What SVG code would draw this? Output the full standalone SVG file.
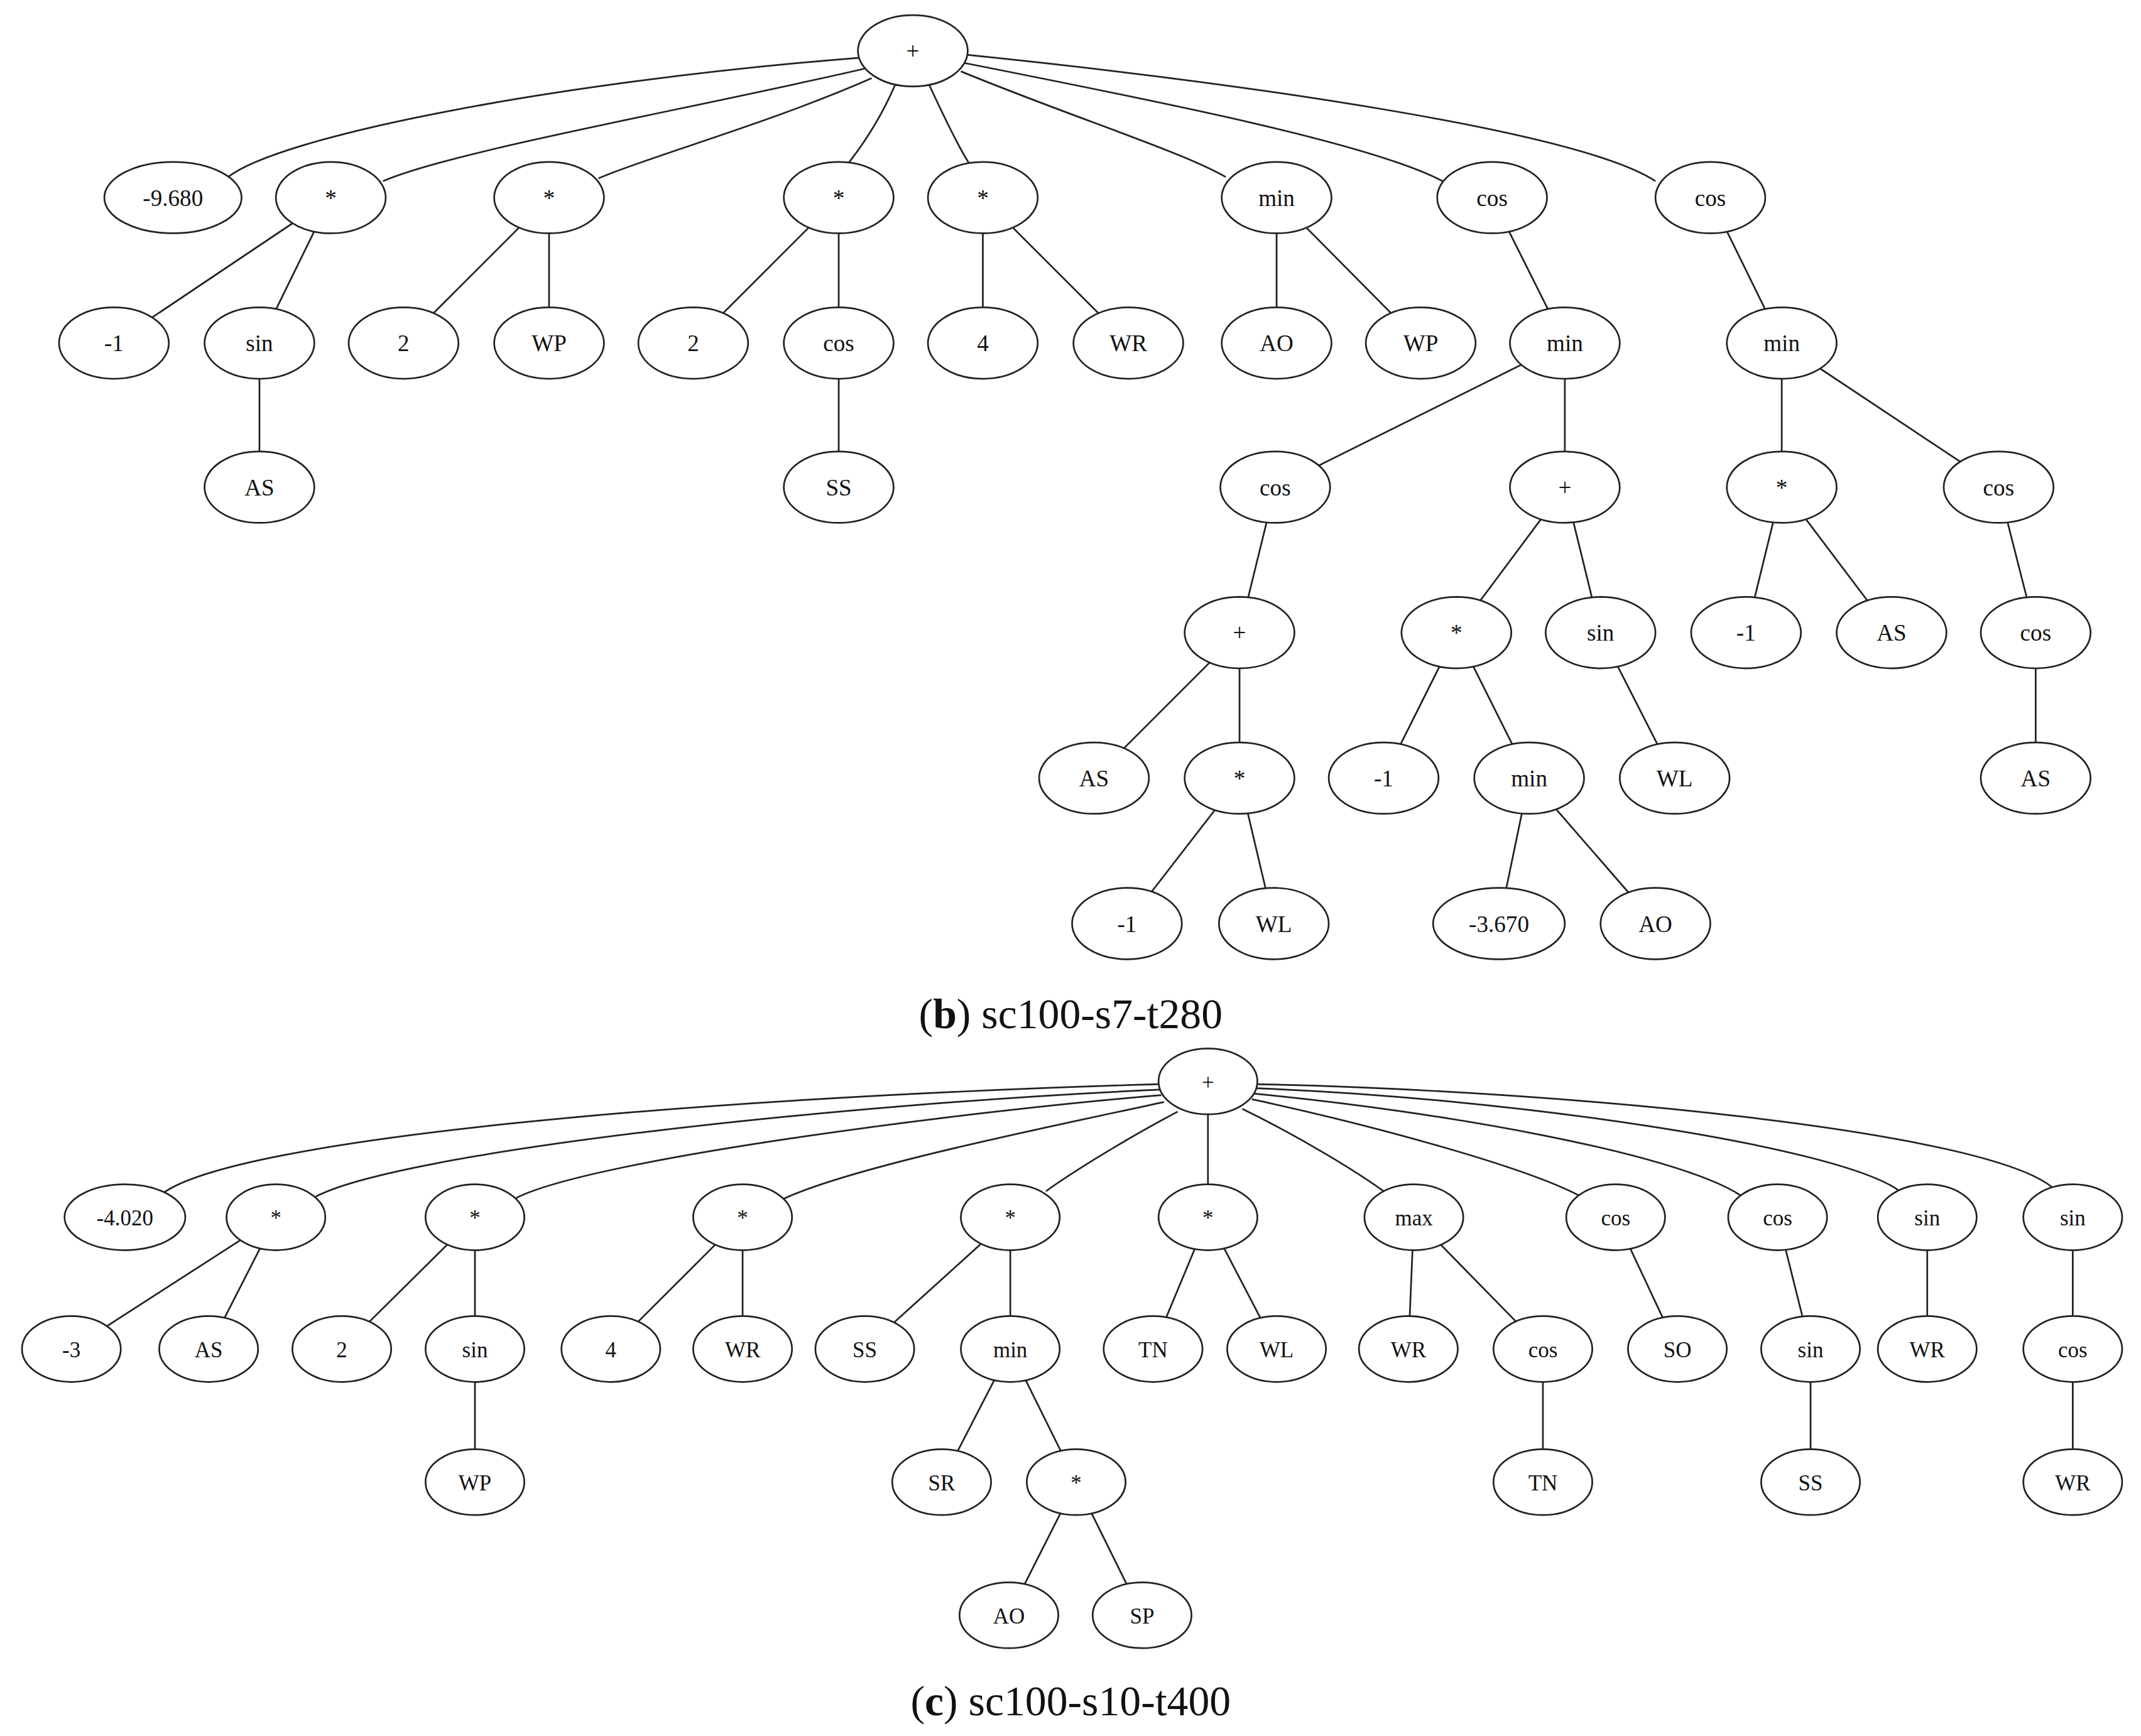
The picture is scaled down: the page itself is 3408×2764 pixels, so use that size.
<svg xmlns="http://www.w3.org/2000/svg" width="3408" height="2764" viewBox="0 0 3408 2764">
<style>
ellipse{fill:#fff;stroke:#222;stroke-width:1.25}
.e path,.e line{fill:none;stroke:#222;stroke-width:1.25}
text{font-family:"Liberation Serif","Times New Roman",serif;font-size:17px;text-anchor:middle;fill:#111}
.c text{font-size:16px}
.cap{font-size:31px;text-anchor:middle}
</style>
<rect width="3408" height="2764" fill="#fff"/>
<g transform="scale(2.185)">
<g class="e" id="connectors">
<!-- tree b root edges -->
<path d="M627,42 C400,60 200,100 165,130"/>
<path d="M630,50 C500,80 330,110 279,132"/>
<path d="M635,57 C560,90 470,115 436,130"/>
<path d="M652,62 C640,90 625,110 618,119"/>
<path d="M677,62 C690,90 700,110 706,119"/>
<path d="M700,52 C780,85 860,110 893,129"/>
<path d="M703,46 C850,75 1000,105 1051,132"/>
<path d="M705,40 C900,60 1150,95 1206,132"/>
<line x1="241" y1="144" x2="83" y2="250"/><line x1="241" y1="144" x2="189" y2="250"/>
<line x1="189" y1="250" x2="189" y2="355"/>
<line x1="400" y1="144" x2="294" y2="250"/><line x1="400" y1="144" x2="400" y2="250"/>
<line x1="611" y1="144" x2="505" y2="250"/><line x1="611" y1="144" x2="611" y2="250"/>
<line x1="611" y1="250" x2="611" y2="355"/>
<line x1="716" y1="144" x2="716" y2="250"/><line x1="716" y1="144" x2="822" y2="250"/>
<line x1="930" y1="144" x2="930" y2="250"/><line x1="930" y1="144" x2="1035" y2="250"/>
<line x1="1087" y1="144" x2="1140" y2="250"/>
<line x1="1246" y1="144" x2="1298" y2="250"/>
<line x1="1140" y1="250" x2="929" y2="355"/><line x1="1140" y1="250" x2="1140" y2="355"/>
<line x1="1298" y1="250" x2="1298" y2="355"/><line x1="1298" y1="250" x2="1456" y2="355"/>
<line x1="929" y1="355" x2="903" y2="461"/>
<line x1="1140" y1="355" x2="1061" y2="461"/><line x1="1140" y1="355" x2="1166" y2="461"/>
<line x1="1298" y1="355" x2="1272" y2="461"/><line x1="1298" y1="355" x2="1378" y2="461"/>
<line x1="1456" y1="355" x2="1483" y2="461"/>
<line x1="903" y1="461" x2="797" y2="567"/><line x1="903" y1="461" x2="903" y2="567"/>
<line x1="1061" y1="461" x2="1008" y2="567"/><line x1="1061" y1="461" x2="1114" y2="567"/>
<line x1="1166" y1="461" x2="1220" y2="567"/>
<line x1="1483" y1="461" x2="1483" y2="567"/>
<line x1="903" y1="567" x2="821" y2="673"/><line x1="903" y1="567" x2="928" y2="673"/>
<line x1="1114" y1="567" x2="1092" y2="673"/><line x1="1114" y1="567" x2="1206" y2="673"/>
<!-- tree c root edges -->
<path d="M845,790 C500,800 170,830 118,870"/>
<path d="M845,794 C600,805 290,840 230,872"/>
<path d="M846,798 C700,810 430,845 376,873"/>
<path d="M848,803 C770,820 620,850 570,874"/>
<path d="M858,810 C820,830 780,855 762,868"/>
<line x1="880" y1="788" x2="880" y2="887"/>
<path d="M905,808 C950,830 990,855 1008,868"/>
<path d="M912,801 C1000,820 1110,850 1150,871"/>
<path d="M914,797 C1050,810 1220,840 1268,871"/>
<path d="M915,793 C1100,800 1340,835 1384,868"/>
<path d="M915,790 C1150,795 1450,825 1496,866"/>
<line x1="201" y1="887" x2="52" y2="983"/><line x1="201" y1="887" x2="152" y2="983"/>
<line x1="346" y1="887" x2="249" y2="983"/><line x1="346" y1="887" x2="346" y2="983"/>
<line x1="346" y1="983" x2="346" y2="1080"/>
<line x1="541" y1="887" x2="445" y2="983"/><line x1="541" y1="887" x2="541" y2="983"/>
<line x1="736" y1="887" x2="630" y2="983"/><line x1="736" y1="887" x2="736" y2="983"/>
<line x1="736" y1="983" x2="686" y2="1080"/><line x1="736" y1="983" x2="784" y2="1080"/>
<line x1="784" y1="1080" x2="735" y2="1177"/><line x1="784" y1="1080" x2="832" y2="1177"/>
<line x1="880" y1="887" x2="840" y2="983"/><line x1="880" y1="887" x2="930" y2="983"/>
<line x1="1030" y1="887" x2="1026" y2="983"/><line x1="1030" y1="887" x2="1124" y2="983"/>
<line x1="1124" y1="983" x2="1124" y2="1080"/>
<line x1="1177" y1="887" x2="1222" y2="983"/>
<line x1="1295" y1="887" x2="1319" y2="983"/><line x1="1319" y1="983" x2="1319" y2="1080"/>
<line x1="1404" y1="887" x2="1404" y2="983"/>
<line x1="1510" y1="887" x2="1510" y2="983"/><line x1="1510" y1="983" x2="1510" y2="1080"/>
</g>
<g id="tree-b">
<g id="b0"><ellipse cx="665" cy="37" rx="40" ry="26"/><text x="665" y="43">+</text></g>
<g id="b1"><ellipse cx="126" cy="144" rx="50" ry="26"/><text x="126" y="150">-9.680</text></g>
<g id="b2"><ellipse cx="241" cy="144" rx="40" ry="26"/><text x="241" y="150">*</text></g>
<g id="b3"><ellipse cx="400" cy="144" rx="40" ry="26"/><text x="400" y="150">*</text></g>
<g id="b4"><ellipse cx="611" cy="144" rx="40" ry="26"/><text x="611" y="150">*</text></g>
<g id="b5"><ellipse cx="716" cy="144" rx="40" ry="26"/><text x="716" y="150">*</text></g>
<g id="b6"><ellipse cx="930" cy="144" rx="40" ry="26"/><text x="930" y="150">min</text></g>
<g id="b7"><ellipse cx="1087" cy="144" rx="40" ry="26"/><text x="1087" y="150">cos</text></g>
<g id="b8"><ellipse cx="1246" cy="144" rx="40" ry="26"/><text x="1246" y="150">cos</text></g>
<g id="b9"><ellipse cx="83" cy="250" rx="40" ry="26"/><text x="83" y="256">-1</text></g>
<g id="b10"><ellipse cx="189" cy="250" rx="40" ry="26"/><text x="189" y="256">sin</text></g>
<g id="b11"><ellipse cx="294" cy="250" rx="40" ry="26"/><text x="294" y="256">2</text></g>
<g id="b12"><ellipse cx="400" cy="250" rx="40" ry="26"/><text x="400" y="256">WP</text></g>
<g id="b13"><ellipse cx="505" cy="250" rx="40" ry="26"/><text x="505" y="256">2</text></g>
<g id="b14"><ellipse cx="611" cy="250" rx="40" ry="26"/><text x="611" y="256">cos</text></g>
<g id="b15"><ellipse cx="716" cy="250" rx="40" ry="26"/><text x="716" y="256">4</text></g>
<g id="b16"><ellipse cx="822" cy="250" rx="40" ry="26"/><text x="822" y="256">WR</text></g>
<g id="b17"><ellipse cx="930" cy="250" rx="40" ry="26"/><text x="930" y="256">AO</text></g>
<g id="b18"><ellipse cx="1035" cy="250" rx="40" ry="26"/><text x="1035" y="256">WP</text></g>
<g id="b19"><ellipse cx="1140" cy="250" rx="40" ry="26"/><text x="1140" y="256">min</text></g>
<g id="b20"><ellipse cx="1298" cy="250" rx="40" ry="26"/><text x="1298" y="256">min</text></g>
<g id="b21"><ellipse cx="189" cy="355" rx="40" ry="26"/><text x="189" y="361">AS</text></g>
<g id="b22"><ellipse cx="611" cy="355" rx="40" ry="26"/><text x="611" y="361">SS</text></g>
<g id="b23"><ellipse cx="929" cy="355" rx="40" ry="26"/><text x="929" y="361">cos</text></g>
<g id="b24"><ellipse cx="1140" cy="355" rx="40" ry="26"/><text x="1140" y="361">+</text></g>
<g id="b25"><ellipse cx="1298" cy="355" rx="40" ry="26"/><text x="1298" y="361">*</text></g>
<g id="b26"><ellipse cx="1456" cy="355" rx="40" ry="26"/><text x="1456" y="361">cos</text></g>
<g id="b27"><ellipse cx="903" cy="461" rx="40" ry="26"/><text x="903" y="467">+</text></g>
<g id="b28"><ellipse cx="1061" cy="461" rx="40" ry="26"/><text x="1061" y="467">*</text></g>
<g id="b29"><ellipse cx="1166" cy="461" rx="40" ry="26"/><text x="1166" y="467">sin</text></g>
<g id="b30"><ellipse cx="1272" cy="461" rx="40" ry="26"/><text x="1272" y="467">-1</text></g>
<g id="b31"><ellipse cx="1378" cy="461" rx="40" ry="26"/><text x="1378" y="467">AS</text></g>
<g id="b32"><ellipse cx="1483" cy="461" rx="40" ry="26"/><text x="1483" y="467">cos</text></g>
<g id="b33"><ellipse cx="797" cy="567" rx="40" ry="26"/><text x="797" y="573">AS</text></g>
<g id="b34"><ellipse cx="903" cy="567" rx="40" ry="26"/><text x="903" y="573">*</text></g>
<g id="b35"><ellipse cx="1008" cy="567" rx="40" ry="26"/><text x="1008" y="573">-1</text></g>
<g id="b36"><ellipse cx="1114" cy="567" rx="40" ry="26"/><text x="1114" y="573">min</text></g>
<g id="b37"><ellipse cx="1220" cy="567" rx="40" ry="26"/><text x="1220" y="573">WL</text></g>
<g id="b38"><ellipse cx="1483" cy="567" rx="40" ry="26"/><text x="1483" y="573">AS</text></g>
<g id="b39"><ellipse cx="821" cy="673" rx="40" ry="26"/><text x="821" y="679">-1</text></g>
<g id="b40"><ellipse cx="928" cy="673" rx="40" ry="26"/><text x="928" y="679">WL</text></g>
<g id="b41"><ellipse cx="1092" cy="673" rx="48" ry="26"/><text x="1092" y="679">-3.670</text></g>
<g id="b42"><ellipse cx="1206" cy="673" rx="40" ry="26"/><text x="1206" y="679">AO</text></g>
</g>
<text class="cap" x="780" y="749">(<tspan font-weight="bold">b</tspan>) sc100-s7-t280</text>
<g id="tree-c" class="c">
<g id="c0"><ellipse cx="880" cy="788" rx="36" ry="24"/><text x="880" y="794">+</text></g>
<g id="c1"><ellipse cx="91" cy="887" rx="44" ry="24"/><text x="91" y="893">-4.020</text></g>
<g id="c2"><ellipse cx="201" cy="887" rx="36" ry="24"/><text x="201" y="893">*</text></g>
<g id="c3"><ellipse cx="346" cy="887" rx="36" ry="24"/><text x="346" y="893">*</text></g>
<g id="c4"><ellipse cx="541" cy="887" rx="36" ry="24"/><text x="541" y="893">*</text></g>
<g id="c5"><ellipse cx="736" cy="887" rx="36" ry="24"/><text x="736" y="893">*</text></g>
<g id="c6"><ellipse cx="880" cy="887" rx="36" ry="24"/><text x="880" y="893">*</text></g>
<g id="c7"><ellipse cx="1030" cy="887" rx="36" ry="24"/><text x="1030" y="893">max</text></g>
<g id="c8"><ellipse cx="1177" cy="887" rx="36" ry="24"/><text x="1177" y="893">cos</text></g>
<g id="c9"><ellipse cx="1295" cy="887" rx="36" ry="24"/><text x="1295" y="893">cos</text></g>
<g id="c10"><ellipse cx="1404" cy="887" rx="36" ry="24"/><text x="1404" y="893">sin</text></g>
<g id="c11"><ellipse cx="1510" cy="887" rx="36" ry="24"/><text x="1510" y="893">sin</text></g>
<g id="c12"><ellipse cx="52" cy="983" rx="36" ry="24"/><text x="52" y="989">-3</text></g>
<g id="c13"><ellipse cx="152" cy="983" rx="36" ry="24"/><text x="152" y="989">AS</text></g>
<g id="c14"><ellipse cx="249" cy="983" rx="36" ry="24"/><text x="249" y="989">2</text></g>
<g id="c15"><ellipse cx="346" cy="983" rx="36" ry="24"/><text x="346" y="989">sin</text></g>
<g id="c16"><ellipse cx="445" cy="983" rx="36" ry="24"/><text x="445" y="989">4</text></g>
<g id="c17"><ellipse cx="541" cy="983" rx="36" ry="24"/><text x="541" y="989">WR</text></g>
<g id="c18"><ellipse cx="630" cy="983" rx="36" ry="24"/><text x="630" y="989">SS</text></g>
<g id="c19"><ellipse cx="736" cy="983" rx="36" ry="24"/><text x="736" y="989">min</text></g>
<g id="c20"><ellipse cx="840" cy="983" rx="36" ry="24"/><text x="840" y="989">TN</text></g>
<g id="c21"><ellipse cx="930" cy="983" rx="36" ry="24"/><text x="930" y="989">WL</text></g>
<g id="c22"><ellipse cx="1026" cy="983" rx="36" ry="24"/><text x="1026" y="989">WR</text></g>
<g id="c23"><ellipse cx="1124" cy="983" rx="36" ry="24"/><text x="1124" y="989">cos</text></g>
<g id="c24"><ellipse cx="1222" cy="983" rx="36" ry="24"/><text x="1222" y="989">SO</text></g>
<g id="c25"><ellipse cx="1319" cy="983" rx="36" ry="24"/><text x="1319" y="989">sin</text></g>
<g id="c26"><ellipse cx="1404" cy="983" rx="36" ry="24"/><text x="1404" y="989">WR</text></g>
<g id="c27"><ellipse cx="1510" cy="983" rx="36" ry="24"/><text x="1510" y="989">cos</text></g>
<g id="c28"><ellipse cx="346" cy="1080" rx="36" ry="24"/><text x="346" y="1086">WP</text></g>
<g id="c29"><ellipse cx="686" cy="1080" rx="36" ry="24"/><text x="686" y="1086">SR</text></g>
<g id="c30"><ellipse cx="784" cy="1080" rx="36" ry="24"/><text x="784" y="1086">*</text></g>
<g id="c31"><ellipse cx="1124" cy="1080" rx="36" ry="24"/><text x="1124" y="1086">TN</text></g>
<g id="c32"><ellipse cx="1319" cy="1080" rx="36" ry="24"/><text x="1319" y="1086">SS</text></g>
<g id="c33"><ellipse cx="1510" cy="1080" rx="36" ry="24"/><text x="1510" y="1086">WR</text></g>
<g id="c34"><ellipse cx="735" cy="1177" rx="36" ry="24"/><text x="735" y="1183">AO</text></g>
<g id="c35"><ellipse cx="832" cy="1177" rx="36" ry="24"/><text x="832" y="1183">SP</text></g>
</g>
<text class="cap" x="780" y="1250">(<tspan font-weight="bold">c</tspan>) sc100-s10-t400</text>
</g>
</svg>
